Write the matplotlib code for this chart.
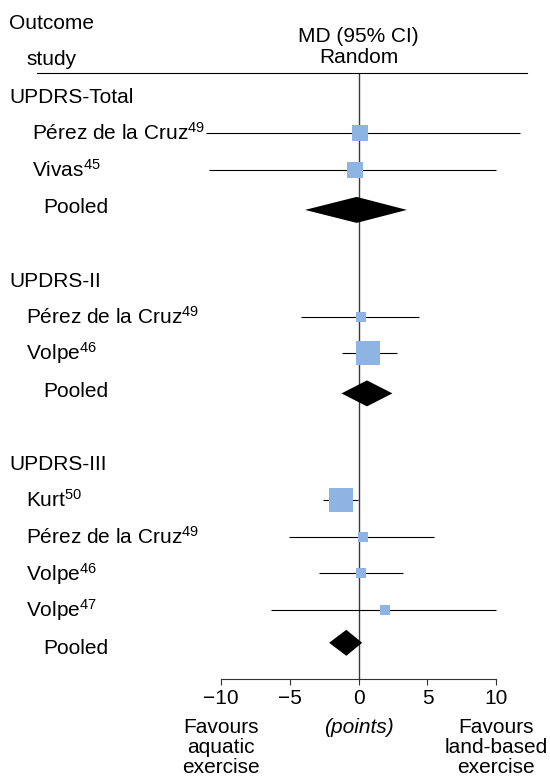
import matplotlib
matplotlib.use("Agg")
import matplotlib.pyplot as plt
from matplotlib.transforms import blended_transform_factory

plt.rcParams["font.family"] = ["Liberation Sans", "DejaVu Sans"]
plt.rcParams["mathtext.fontset"] = "custom"
plt.rcParams["mathtext.rm"] = "Liberation Sans"
plt.rcParams["mathtext.it"] = "Liberation Sans:italic"

# data (mean difference, 95% CI, points)
groups = ["UPDRS-Total", "UPDRS-II", "UPDRS-III"]
study_group = [0, 0, 1, 1, 2, 2, 2, 2]
study_names = ["Pérez de la Cruz", "Vivas", "Pérez de la Cruz", "Volpe",
               "Kurt", "Pérez de la Cruz", "Volpe", "Volpe"]
study_refs = ["49", "45", "49", "46", "50", "49", "46", "47"]
study_md = [0.1, -0.3, 0.15, 0.7, -1.3, 0.3, 0.15, 1.9]
study_lo = [-11.1, -10.9, -4.2, -1.2, -2.6, -5.1, -2.9, -6.4]
study_hi = [11.7, 10.0, 4.4, 2.8, -0.05, 5.5, 3.2, 10.0]
study_weight = [41, 46, 16, 85, 85, 14, 16, 16]
pooled_md = [-0.15, 0.6, -0.9]
pooled_lo = [-3.9, -1.25, -2.15]
pooled_hi = [3.5, 2.45, 0.25]
ticks = [-10, -5, 0, 5, 10]

# layout (pixels)
W, H = 550, 778
ZERO_PX = 358.7
PX_PER_UNIT = 13.76
ROW0 = 96.3
STEP = 36.7
FS = 15
AXIS_Y = 679
BOX_BLUE = "#8db4e2"
study_indent = [32, 26, 26]
diamond_shift = [3.5, 3.5, -4]

fig = plt.figure(figsize=(W / 100, H / 100), dpi=100)
ax = fig.add_axes([0, 0, 1, 1])
ax.set_xlim(-ZERO_PX / PX_PER_UNIT, (W - ZERO_PX) / PX_PER_UNIT)
ax.set_ylim(H, 0)
ax.axis("off")
tr = blended_transform_factory(ax.transAxes, ax.transData)


def label(x_px, y, s, **kw):
    ax.text(x_px / W, y, s, transform=tr, fontsize=FS, va="baseline", **kw)


# header
label(9.5, 29.3, "Outcome")
label(26, 64.5, "study")
ax.text(0, 41.5, "MD (95% CI)", fontsize=FS, ha="center", va="baseline")
ax.text(0, 63.3, "Random", fontsize=FS, ha="center", va="baseline")
ax.axhline(73.3, xmin=37 / W, xmax=527 / W, color="black", lw=0.8)
ax.vlines(0, 73.3, AXIS_Y, color="#3a3a3a", lw=1.0, zorder=1)

k = 0
for g, gname in enumerate(groups):
    y = ROW0 + k * STEP
    label(9.5, y + 7, gname)
    k += 1
    for i in range(len(study_names)):
        if study_group[i] != g:
            continue
        y = ROW0 + k * STEP
        ax.hlines(y, study_lo[i], study_hi[i], color="black", lw=0.8, zorder=2)
        side = 2.5 * study_weight[i] ** 0.5
        ax.plot(study_md[i], y, marker="s", ms=side * 0.72, mew=0,
                color=BOX_BLUE, zorder=3)
        label(study_indent[g], y + 7,
              study_names[i] + r"$^{\mathregular{" + study_refs[i] + "}}$")
        k += 1
    y = ROW0 + k * STEP
    yd = y + diamond_shift[g]
    ax.fill([pooled_lo[g], pooled_md[g], pooled_hi[g], pooled_md[g]],
            [yd, yd - 13, yd, yd + 13], color="black", lw=0, zorder=3)
    label(43, y + 7, "Pooled")
    k += 2

# x axis
ax2 = fig.add_axes([(ZERO_PX - 10 * PX_PER_UNIT) / W, (H - AXIS_Y) / H,
                    20 * PX_PER_UNIT / W, 0.001])
ax2.set_xlim(-10, 10)
ax2.set_xticks(ticks)
ax2.set_yticks([])
ax2.patch.set_visible(False)
for s in ["top", "left", "right"]:
    ax2.spines[s].set_visible(False)
ax2.spines["bottom"].set_linewidth(0.8)
ax2.spines["bottom"].set_color("#333333")
ax2.tick_params(axis="x", length=6 * 0.72, width=0.8, color="#333333",
                labelsize=FS, pad=3)

for i, line in enumerate(["Favours", "aquatic", "exercise"]):
    ax.text(-10, 732.7 + 20 * i, line, fontsize=FS, ha="center", va="baseline")
for i, line in enumerate(["Favours", "land-based", "exercise"]):
    ax.text(10, 732.7 + 20 * i, line, fontsize=FS, ha="center", va="baseline")
ax.text(0, 732.7, "(points)", fontsize=FS, style="italic", ha="center",
        va="baseline")

fig.savefig("out.png", dpi=100)
